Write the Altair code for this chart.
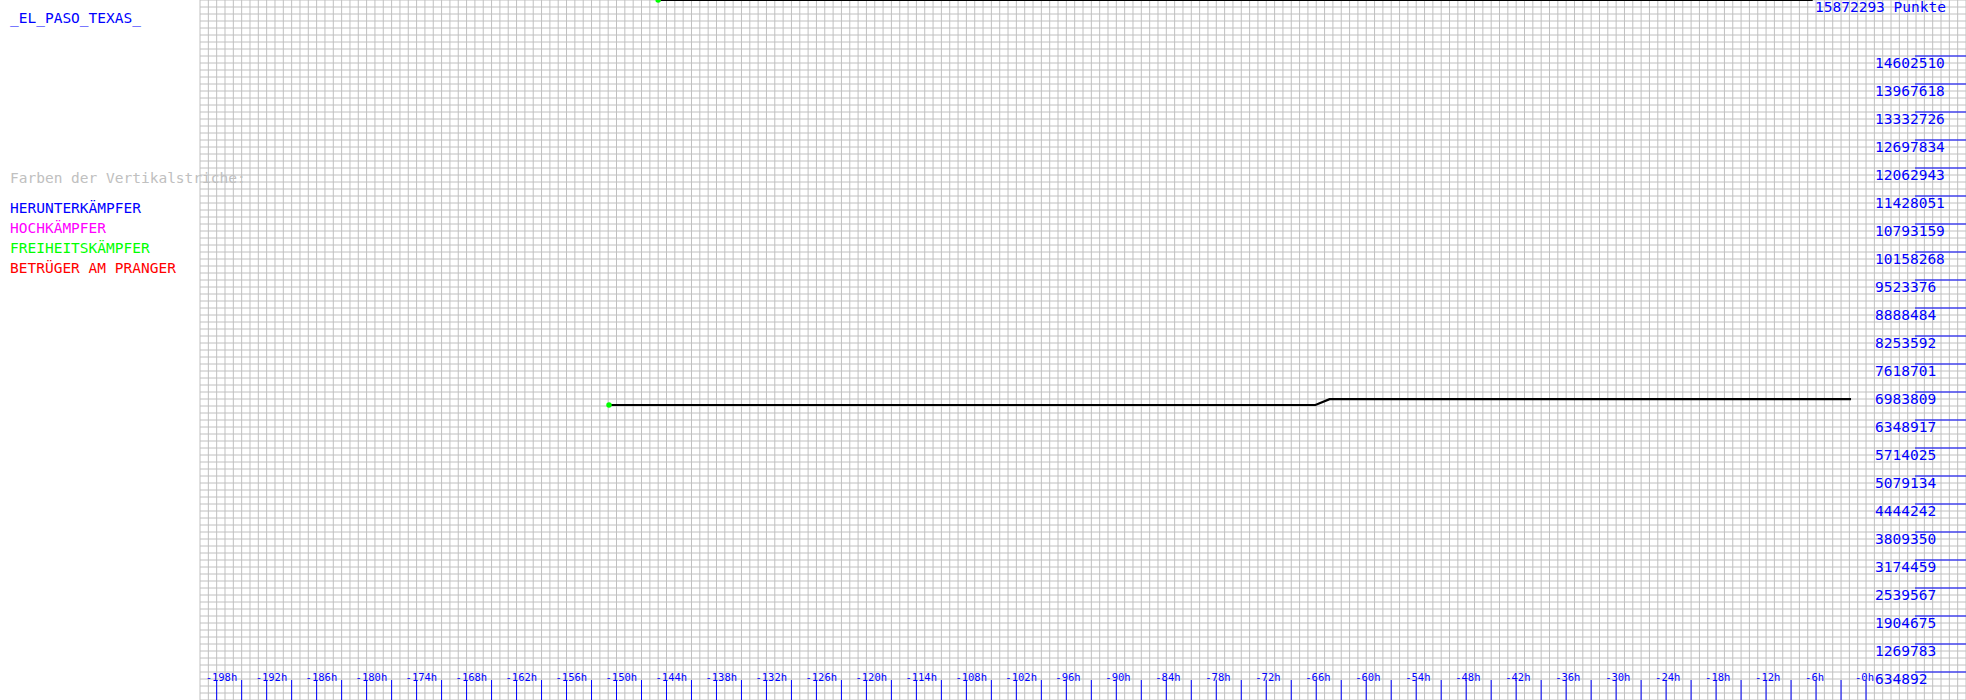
import altair as alt
import pandas as pd

# ---- data ----
TOP_VALUE = 15872293
TITLE = "_EL_PASO_TEXAS_"
TOP_LABEL = "15872293 Punkte"
legend_head = "Farben der Vertikalstriche:"
legend_labels = ["HERUNTERKÄMPFER", "HOCHKÄMPFER", "FREIHEITSKÄMPFER", "BETRÜGER AM PRANGER"]
legend_colors = ["#0000ff", "#ff00ff", "#00ff00", "#ff0000"]

y_tick_labels = ["634892", "1269783", "1904675", "2539567", "3174459", "3809350",
                 "4444242", "5079134", "5714025", "6348917", "6983809", "7618701",
                 "8253592", "8888484", "9523376", "10158268", "10793159", "11428051",
                 "12062943", "12697834", "13332726", "13967618", "14602510"]
y_tick_values = [TOP_VALUE * (k + 1) / 25 for k in range(len(y_tick_labels))]

x_tick_hours = list(range(-198, 1, 3))
x_label_hours = list(range(-198, 1, 6))
x_labels = [f"-{abs(h)}h" for h in x_label_hours]

grid_hours = list(range(-200, 13))
grid_values = [TOP_VALUE * k / 100 for k in range(101)]

series1_h = [-145.0, -6.4]
series1_v = [15872293, 15872293]
series2_h = [-150.9, -66.1, -64.4, -1.8]
series2_v = [6688900, 6688900, 6820550, 6820550]

W, H = 1766, 700
X_DOMAIN = [-200, 12]
Y_DOMAIN = [0, TOP_VALUE]
BLUE = "#0000ff"
GRID = "#c0c0c0"
FONT = "DejaVu Sans Mono"

xs = alt.Scale(domain=X_DOMAIN, nice=False, zero=False)
ys = alt.Scale(domain=Y_DOMAIN, nice=False, zero=False)

vgrid = alt.Chart(pd.DataFrame({"h": grid_hours})).mark_rule(
    color=GRID, strokeWidth=1).encode(x=alt.X("h:Q", scale=xs, axis=None))
hgrid = alt.Chart(pd.DataFrame({"v": grid_values})).mark_rule(
    color=GRID, strokeWidth=1).encode(y=alt.Y("v:Q", scale=ys, axis=None))

xticks = alt.Chart(pd.DataFrame({"h": x_tick_hours})).mark_rule(
    color=BLUE, strokeWidth=1).encode(
    x=alt.X("h:Q", scale=xs, axis=None), y=alt.value(680), y2=alt.value(700))
xlab = alt.Chart(pd.DataFrame({"h": x_label_hours, "t": x_labels})).mark_text(
    color=BLUE, font=FONT, fontSize=10.5, align="left", baseline="alphabetic", dx=-11).encode(
    x=alt.X("h:Q", scale=xs, axis=None), y=alt.value(681), text="t:N")

yticks = alt.Chart(pd.DataFrame({"v": y_tick_values})).mark_rule(
    color=BLUE, strokeWidth=1).encode(
    y=alt.Y("v:Q", scale=ys, axis=None), x=alt.value(1715), x2=alt.value(W))
ylab = alt.Chart(pd.DataFrame({"v": y_tick_values, "t": y_tick_labels})).mark_text(
    color=BLUE, font=FONT, fontSize=14.5, align="left", baseline="alphabetic", dy=12).encode(
    y=alt.Y("v:Q", scale=ys, axis=None), x=alt.value(1675), text="t:N")

s1 = pd.DataFrame({"h": series1_h, "v": series1_v, "i": range(len(series1_h))})
s2 = pd.DataFrame({"h": series2_h, "v": series2_v, "i": range(len(series2_h))})

def line(df):
    return alt.Chart(df).mark_line(color="black", strokeWidth=2.2).encode(
        x=alt.X("h:Q", scale=xs, axis=None), y=alt.Y("v:Q", scale=ys, axis=None), order="i:Q")

def dot(df):
    return alt.Chart(df.iloc[[0]]).mark_circle(color="#00ff00", size=30, opacity=1).encode(
        x=alt.X("h:Q", scale=xs, axis=None), y=alt.Y("v:Q", scale=ys, axis=None))

def label(text, color, x, y):
    return alt.Chart(pd.DataFrame({"t": [text]})).mark_text(
        color=color, font=FONT, fontSize=14.5, align="left", baseline="alphabetic").encode(
        x=alt.value(x), y=alt.value(y), text="t:N")

texts = [label(TITLE, BLUE, -190, 23), label(legend_head, GRID, -190, 183),
         label(TOP_LABEL, BLUE, 1615, 12)]
for i, (t, c) in enumerate(zip(legend_labels, legend_colors)):
    texts.append(label(t, c, -190, 213 + 20 * i))

chart = alt.layer(vgrid, hgrid, xticks, yticks, line(s1), line(s2), dot(s1), dot(s2),
                  xlab, ylab, *texts).properties(
    width=W, height=H, autosize="none",
    padding={"left": 200, "top": 0, "right": 0, "bottom": 0},
    background="white").configure_view(stroke=None)

chart.save("out.html", embed_options={"renderer": "svg", "actions": False})
